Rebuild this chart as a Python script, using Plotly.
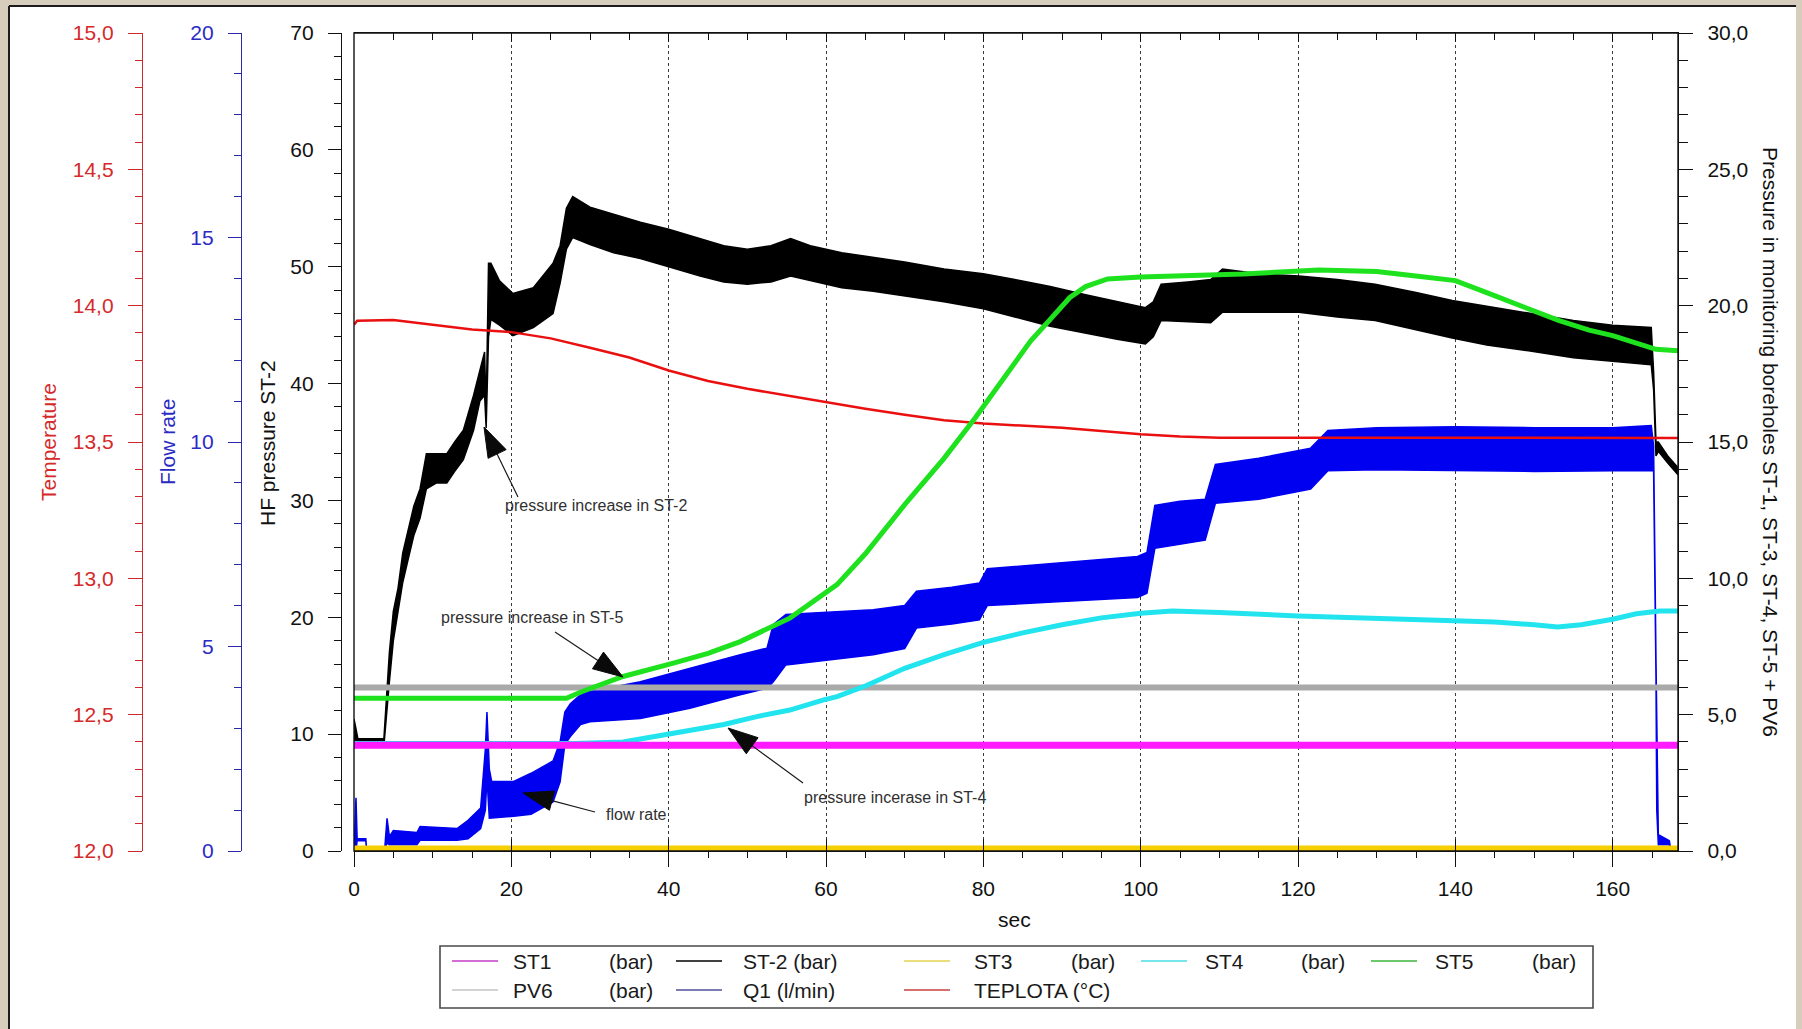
import math
import plotly.graph_objects as go

W, H = 1802, 1029
FONT = "Liberation Sans, Arial, sans-serif"

# ---------------------------------------------------------------- data
# ST-2 : HF pressure (bar) on the left axis; the fast oscillation is drawn
# as a band between its lower and upper envelope
st2_t = [0.0, 0.5, 3.8, 4.1, 4.5, 5.0, 5.6, 6.2, 6.9, 7.6, 8.4, 9.2, 10.5, 11.8,
         12.8, 13.9, 15.2, 16.0, 16.6, 16.8, 17.1, 17.4, 18.5, 20.2, 22.8, 25.3,
         26.2, 27.0, 27.8, 30.0, 33.0, 36.4, 40.0, 44.0, 47.0, 50.0, 53.0, 55.5,
         58.0, 62.0, 66.0, 70.0, 75.0, 80.0, 84.0, 88.5, 93.0, 97.0, 100.6, 101.6,
         102.6, 106.0, 108.9, 110.4, 115.0, 120.1, 125.0, 129.8, 135.0, 139.6,
         144.0, 149.3, 155.0, 160.0, 164.9, 165.2, 165.5, 165.8, 167.0, 168.3]
st2_lo = [8.8, 9.0, 9.0, 11.0, 14.5, 18.0, 20.5, 23.0, 25.0, 27.0, 28.5, 31.0, 31.5, 31.5,
          32.5, 33.5, 36.0, 38.5, 39.0, 36.2, 44.0, 45.5, 45.0, 44.1, 44.8, 46.0,
          48.6, 51.5, 52.5, 51.9, 51.2, 50.7, 50.0, 49.2, 48.7, 48.5, 48.7, 49.2,
          48.8, 48.2, 47.9, 47.5, 47.0, 46.4, 45.7, 44.9, 44.3, 43.8, 43.4, 44.0,
          45.4, 45.3, 45.2, 46.1, 46.1, 46.1, 45.7, 45.4, 44.6, 43.9,
          43.3, 42.8, 42.2, 41.9, 41.6, 39.5, 33.8, 34.2, 33.2, 32.2]
st2_hi = [11.3, 9.6, 9.6, 13.0, 17.0, 20.5, 22.5, 25.5, 27.5, 29.5, 31.0, 34.0, 34.0, 34.0,
          35.0, 36.0, 39.0, 41.0, 42.7, 37.5, 50.3, 50.3, 48.8, 47.7, 48.2, 50.3,
          51.8, 55.0, 56.0, 55.1, 54.5, 53.8, 53.2, 52.4, 51.8, 51.5, 51.8, 52.4,
          51.8, 51.2, 50.8, 50.4, 49.8, 49.4, 48.9, 48.3, 47.6, 47.0, 46.5, 47.0,
          48.5, 48.7, 48.9, 49.8, 49.4, 49.2, 48.9, 48.5, 47.8, 47.1,
          46.6, 46.0, 45.4, 45.0, 44.8, 41.0, 35.0, 35.0, 33.8, 32.8]

# Q1 : flow rate (l/min), band between lower and upper envelope
q1_t = [0.0, 0.25, 0.4, 1.5, 1.6, 3.9, 4.2, 4.5, 5.0, 8.0, 8.4, 13.1, 14.5, 16.1,
        16.7, 16.9, 17.2, 17.5, 20.3, 22.5, 25.3, 26.2, 26.8, 27.5, 28.8, 30.0,
        36.4, 42.7, 49.1, 52.5, 53.3, 54.9, 61.8, 66.0, 70.0, 71.5, 76.0, 79.5,
        80.5, 90.0, 99.6, 100.8, 101.8, 105.0, 108.2, 109.5, 115.0, 121.6, 123.8,
        130.0, 140.0, 150.0, 160.0, 164.9, 165.2, 165.5, 165.6, 165.8, 167.2,
        167.4, 168.3]
q1_lo = [0.0, 0.0, 0.25, 0.25, 0.0, 0.0, 0.2, 0.15, 0.15, 0.15, 0.26, 0.26, 0.3, 0.55,
         1.0, 1.8, 0.8, 0.8, 0.85, 0.9, 1.2, 1.69, 2.6, 2.8, 3.09, 3.16,
         3.24, 3.49, 3.82, 3.98, 4.14, 4.55, 4.71, 4.8, 4.95, 5.45, 5.55, 5.65,
         6.0, 6.1, 6.2, 6.3, 7.4, 7.5, 7.6, 8.5, 8.6, 8.85, 9.3,
         9.32, 9.3, 9.28, 9.3, 9.3, 9.3, 4.3, 1.0, 0.15, 0.15,
         0.0, 0.0]
q1_hi = [0.0, 1.3, 0.3, 0.3, 0.05, 0.05, 0.8, 0.35, 0.5, 0.45, 0.6, 0.55, 0.75, 1.05,
         2.5, 3.4, 2.0, 1.7, 1.7, 1.9, 2.2, 2.67, 3.4, 3.6, 3.82, 3.9,
         4.14, 4.47, 4.8, 4.96, 5.54, 5.78, 5.86, 5.9, 6.0, 6.35, 6.45, 6.55,
         6.9, 7.05, 7.2, 7.3, 8.45, 8.55, 8.6, 9.45, 9.6, 9.85, 10.28,
         10.35, 10.37, 10.35, 10.35, 10.4, 9.9, 4.7, 3.5, 0.4, 0.25,
         0.02, 0.0]

# TEPLOTA : temperature (deg C)
temp_t = [0.0, 0.4, 5, 10, 15, 20, 25, 30, 35, 40, 45, 50, 55, 60, 65, 70, 75, 80,
          85, 90, 95, 100, 105, 110, 120, 140, 160, 168.3]
temp_v = [13.93, 13.945, 13.947, 13.93, 13.913, 13.903, 13.88, 13.846, 13.81, 13.762,
          13.724, 13.695, 13.67, 13.645, 13.622, 13.60, 13.58, 13.568, 13.56, 13.552,
          13.54, 13.528, 13.52, 13.516, 13.516, 13.516, 13.515, 13.515]

# monitoring boreholes (bar), right axis
st5_t = [0, 27, 29, 32, 34.2, 40.6, 45, 49.1, 55.4, 61.4, 65, 70, 75, 79, 83, 86, 88.5,
         91, 93, 95.8, 100, 113, 122.6, 130, 134.7, 140, 144.4, 149.3, 153.2, 157, 160,
         165.5, 168.3]
st5_v = [5.6, 5.6, 5.85, 6.15, 6.4, 6.89, 7.25, 7.68, 8.54, 9.77, 10.9, 12.7, 14.4,
         15.9, 17.5, 18.7, 19.5, 20.3, 20.7, 20.98, 21.05, 21.16, 21.31, 21.25, 21.1,
         20.92, 20.43, 19.88, 19.45, 19.1, 18.9, 18.4, 18.35]

st4_t = [0, 28, 34.2, 38.5, 42.7, 47, 51.2, 55.4, 59.7, 61.4, 65, 70, 75, 80, 85, 90,
         95, 100, 104, 110, 120, 130, 140, 145, 150, 153, 156, 160, 163, 166, 168.3]
st4_v = [3.94, 3.94, 4.0, 4.23, 4.44, 4.64, 4.93, 5.17, 5.54, 5.66, 6.05, 6.7, 7.2,
         7.65, 8.0, 8.3, 8.55, 8.72, 8.8, 8.75, 8.62, 8.55, 8.45, 8.4, 8.3, 8.22, 8.3,
         8.5, 8.7, 8.8, 8.8]

st1_t = [0, 168.3]
st1_v = [3.88, 3.88]

pv6_t = [0, 168.3]
pv6_v = [6.0, 6.0]

st3_t = [0, 168.3]
st3_v = [0.07, 0.07]

# axis ticks
x_ticks = [0, 20, 40, 60, 80, 100, 120, 140, 160]
hf_ticks = [0, 10, 20, 30, 40, 50, 60, 70]
flow_ticks = [0, 5, 10, 15, 20]
temp_ticks = [12.0, 12.5, 13.0, 13.5, 14.0, 14.5, 15.0]
temp_labels = ["12,0", "12,5", "13,0", "13,5", "14,0", "14,5", "15,0"]
mon_ticks = [0, 5, 10, 15, 20, 25, 30]
mon_labels = ["0,0", "5,0", "10,0", "15,0", "20,0", "25,0", "30,0"]

# legend entries
leg_names = ["ST1", "ST-2 (bar)", "ST3", "ST4", "ST5", "PV6", "Q1 (l/min)", "TEPLOTA (°C)"]
leg_units = ["(bar)", "", "(bar)", "(bar)", "(bar)", "(bar)", "", ""]

# ---------------------------------------------------------------- styles
C_ST1 = "#ff1aff"
C_ST2 = "#000000"
C_ST3 = "#f5cf00"
C_ST4 = "#22e4ee"
C_ST5 = "#1ee21e"
C_PV6 = "#a9a9a9"
C_Q1 = "#0000f0"
C_TEMP = "#ea1010"
leg_colors = ["#c43cc4", "#000000", "#e6d250", "#48dce6", "#3cb43c", "#c4c4c4",
              "#50509c", "#c84040"]

C_TEMP_AX = "#cc2a2a"
C_FLOW_AX = "#2a2aa8"


def fx(p):
    return p / W


def fy(p):
    return 1 - p / H


def band(t, lo, hi):
    return list(t) + list(t)[::-1], list(hi) + list(lo)[::-1]


fig = go.Figure()

# bottom -> top drawing order
fig.add_trace(go.Scatter(x=pv6_t, y=pv6_v, yaxis="y4", mode="lines",
                         line=dict(color=C_PV6, width=6), name="PV6"))
fig.add_trace(go.Scatter(x=st3_t, y=st3_v, yaxis="y4", mode="lines",
                         line=dict(color=C_ST3, width=7), name="ST3"))
bx, by = band(q1_t, q1_lo, q1_hi)
fig.add_trace(go.Scatter(x=bx, y=by, yaxis="y2", mode="lines", fill="toself",
                         fillcolor=C_Q1, line=dict(color=C_Q1, width=1.5), name="Q1"))
fig.add_trace(go.Scatter(x=st5_t, y=st5_v, yaxis="y4", mode="lines",
                         line=dict(color=C_ST5, width=5), name="ST5"))
bx, by = band(st2_t, st2_lo, st2_hi)
fig.add_trace(go.Scatter(x=bx, y=by, yaxis="y", mode="lines", fill="toself",
                         fillcolor=C_ST2, line=dict(color=C_ST2, width=1.5), name="ST-2"))
fig.add_trace(go.Scatter(x=st4_t, y=st4_v, yaxis="y4", mode="lines",
                         line=dict(color=C_ST4, width=5), name="ST4"))
fig.add_trace(go.Scatter(x=st1_t, y=st1_v, yaxis="y4", mode="lines",
                         line=dict(color=C_ST1, width=7), name="ST1"))
fig.add_trace(go.Scatter(x=temp_t, y=temp_v, yaxis="y3", mode="lines",
                         line=dict(color=C_TEMP, width=2.5), name="TEPLOTA"))
# carriers for the extra tick rows of the time axis
fig.add_trace(go.Scatter(x=[None], y=[None], xaxis="x2", yaxis="y", showlegend=False))
fig.add_trace(go.Scatter(x=[None], y=[None], xaxis="x3", yaxis="y", showlegend=False))

dom_x = [fx(354), fx(1678)]
dom_y = [fy(851), fy(33)]
x_range = [0, 168.3]

tickfont = dict(family=FONT, size=21, color="#111111")

fig.update_layout(
    width=W, height=H, margin=dict(l=0, r=0, t=0, b=0, autoexpand=False),
    paper_bgcolor="#d7cdbc", plot_bgcolor="white", showlegend=False,
    font=dict(family=FONT, size=21, color="#111111"),
    xaxis=dict(domain=dom_x, range=x_range, anchor="y", tickvals=x_ticks,
               ticks="outside", ticklen=15, tickwidth=1.4, tickcolor="#111",
               showline=True, linecolor="#111", linewidth=1.4, zeroline=False,
               showgrid=True, griddash="dot", gridcolor="#3a3a3a", gridwidth=1,
               tickfont=tickfont, ticklabelstandoff=4, automargin=False,
               minor=dict(dtick=5, tick0=0, ticks="outside", ticklen=6,
                          tickcolor="#111", tickwidth=1.2, showgrid=False)),
    xaxis2=dict(domain=dom_x, range=x_range, overlaying="x", side="top", anchor="y",
                tickvals=x_ticks, ticks="inside", ticklen=9, tickwidth=1.2,
                tickcolor="#111", showticklabels=False, showline=True,
                linecolor="#111", linewidth=1.4, showgrid=False, zeroline=False,
                automargin=False,
                minor=dict(dtick=5, tick0=0, ticks="inside", ticklen=7,
                           tickcolor="#111", showgrid=False)),
    xaxis3=dict(domain=dom_x, range=x_range, overlaying="x", side="bottom", anchor="y",
                tickvals=x_ticks, ticks="inside", ticklen=12, tickwidth=1.4,
                tickcolor="#111", showticklabels=False, showline=False,
                showgrid=False, zeroline=False, automargin=False),
    yaxis=dict(domain=dom_y, range=[0, 70], anchor="free", position=fx(341), side="left",
               tickvals=hf_ticks, ticks="outside", ticklen=13, tickwidth=1.3,
               tickcolor="#111", showline=True, linecolor="#111", linewidth=1.3,
               showgrid=False, zeroline=False, tickfont=tickfont, ticklabelstandoff=10,
               automargin=False,
               minor=dict(dtick=2, tick0=0, ticks="outside", ticklen=7,
                          tickcolor="#111", showgrid=False)),
    yaxis2=dict(domain=dom_y, range=[0, 20], overlaying="y", anchor="free",
                position=fx(241), side="left", tickvals=flow_ticks, ticks="outside",
                ticklen=13, tickwidth=1.3, tickcolor=C_FLOW_AX, showline=True,
                linecolor=C_FLOW_AX, linewidth=1.3, showgrid=False, zeroline=False,
                tickfont=dict(family=FONT, size=21, color="#2b2bc4"),
                ticklabelstandoff=10, automargin=False,
                minor=dict(dtick=1, tick0=0, ticks="outside", ticklen=7,
                           tickcolor=C_FLOW_AX, showgrid=False)),
    yaxis3=dict(domain=dom_y, range=[12, 15], overlaying="y", anchor="free",
                position=fx(142), side="left", tickvals=temp_ticks, ticktext=temp_labels,
                ticks="outside", ticklen=14, tickwidth=1.3, tickcolor=C_TEMP_AX,
                showline=True, linecolor=C_TEMP_AX, linewidth=1.3, showgrid=False,
                zeroline=False, tickfont=dict(family=FONT, size=21, color="#d42a2a"),
                ticklabelstandoff=10, automargin=False,
                minor=dict(dtick=0.1, tick0=12, ticks="outside", ticklen=7,
                           tickcolor=C_TEMP_AX, showgrid=False)),
    yaxis4=dict(domain=dom_y, range=[0, 30], overlaying="y", anchor="x", side="right",
                tickvals=mon_ticks, ticktext=mon_labels, ticks="outside", ticklen=14,
                tickwidth=1.3, tickcolor="#111", showline=True, linecolor="#111",
                linewidth=1.4, showgrid=False, zeroline=False, tickfont=tickfont,
                ticklabelstandoff=10, automargin=False,
                minor=dict(dtick=1, tick0=0, ticks="outside", ticklen=9,
                           tickcolor="#111", showgrid=False)),
)

shapes = [
    # white sheet with a dark edge on the left and top
    dict(type="rect", xref="paper", yref="paper", x0=fx(9), x1=fx(1796), y0=fy(1040),
         y1=fy(6), fillcolor="white", line=dict(width=0), layer="below"),
    dict(type="line", xref="paper", yref="paper", x0=fx(9), x1=fx(9), y0=fy(1040),
         y1=fy(6), line=dict(color="#1c1c1c", width=2)),
    dict(type="line", xref="paper", yref="paper", x0=fx(9), x1=fx(1796), y0=fy(6),
         y1=fy(6), line=dict(color="#1c1c1c", width=2)),
    # plot frame
    dict(type="rect", xref="paper", yref="paper", x0=dom_x[0], x1=dom_x[1],
         y0=dom_y[0], y1=dom_y[1], line=dict(color="#111", width=1.4)),
    # legend box
    dict(type="rect", xref="paper", yref="paper", x0=fx(440), x1=fx(1593), y0=fy(1008),
         y1=fy(946), fillcolor="white", line=dict(color="#4a4a4a", width=1.6)),
]

annotations = []

# axis titles
annotations += [
    dict(text="Temperature", x=fx(48), y=fy(442), textangle=-90,
         font=dict(size=21, color="#d42a2a")),
    dict(text="Flow rate", x=fx(167), y=fy(442), textangle=-90,
         font=dict(size=21, color="#2b2bc4")),
    dict(text="HF pressure ST-2", x=fx(267), y=fy(443), textangle=-90,
         font=dict(size=21, color="#111")),
    dict(text="Pressure in monitoring boreholes ST-1, ST-3, ST-4, ST-5 + PV6",
         x=fx(1771), y=fy(442), textangle=90, font=dict(size=21, color="#111")),
    dict(text="sec", x=fx(1015), y=fy(919), font=dict(size=21, color="#111")),
]
for a in annotations:
    a.update(xref="paper", yref="paper", showarrow=False, xanchor="center",
             yanchor="middle")

# call-outs: text centre, arrow tail and arrow tip (page pixels)
notes = [
    ("pressure increase in ST-2", (596, 505), (518, 497), (484, 427)),
    ("pressure increase in ST-5", (532, 617), (555, 632), (623, 677)),
    ("flow rate", (636, 814), (595, 812), (523, 793)),
    ("pressure incerase in ST-4", (895, 797), (803, 783), (728, 728)),
]
HEAD_LEN, HEAD_HALF = 30, 10
for txt, (cx, cy), (tx, ty), (hx, hy) in notes:
    annotations.append(dict(text=txt, x=fx(cx), y=fy(cy), xref="paper", yref="paper",
                            showarrow=False, xanchor="center", yanchor="middle",
                            font=dict(size=16, color="#303030")))
    dx, dy = hx - tx, hy - ty
    L = math.hypot(dx, dy)
    ux, uy = dx / L, dy / L
    bx0, by0 = hx - ux * HEAD_LEN, hy - uy * HEAD_LEN
    px_, py_ = -uy, ux
    shapes.append(dict(type="line", xref="paper", yref="paper", x0=fx(tx), y0=fy(ty),
                       x1=fx(bx0 + ux * 4), y1=fy(by0 + uy * 4),
                       line=dict(color="#1a1a1a", width=1.2)))
    c1 = (bx0 + px_ * HEAD_HALF, by0 + py_ * HEAD_HALF)
    c2 = (bx0 - px_ * HEAD_HALF, by0 - py_ * HEAD_HALF)
    path = "M {:.5f},{:.5f} L {:.5f},{:.5f} L {:.5f},{:.5f} Z".format(
        fx(hx), fy(hy), fx(c1[0]), fy(c1[1]), fx(c2[0]), fy(c2[1]))
    shapes.append(dict(type="path", xref="paper", yref="paper", path=path,
                       fillcolor="#0a0a0a", line=dict(color="#0a0a0a", width=1)))

# legend
col_line_x = [452, 676, 904, 1141, 1371]
col_text_x = [511, 741, 972, 1203, 1433]
col_unit_x = [607, None, 1069, 1299, 1530]
row_y = [961, 990]
slots = [(0, 0), (0, 1), (0, 2), (0, 3), (0, 4), (1, 0), (1, 1), (1, 2)]
for i, (r, c) in enumerate(slots):
    yy = row_y[r]
    shapes.append(dict(type="line", xref="paper", yref="paper", x0=fx(col_line_x[c]),
                       x1=fx(col_line_x[c] + 46), y0=fy(yy), y1=fy(yy),
                       line=dict(color=leg_colors[i], width=1.6)))
    annotations.append(dict(text=leg_names[i], x=fx(col_text_x[c]), y=fy(yy),
                            xref="paper", yref="paper", showarrow=False,
                            xanchor="left", yanchor="middle",
                            font=dict(size=21, color="#1a1a1a")))
    if leg_units[i]:
        annotations.append(dict(text=leg_units[i], x=fx(col_unit_x[c]), y=fy(yy),
                                xref="paper", yref="paper", showarrow=False,
                                xanchor="left", yanchor="middle",
                                font=dict(size=21, color="#1a1a1a")))

fig.update_layout(shapes=shapes, annotations=annotations)
fig.write_html("out.html")
